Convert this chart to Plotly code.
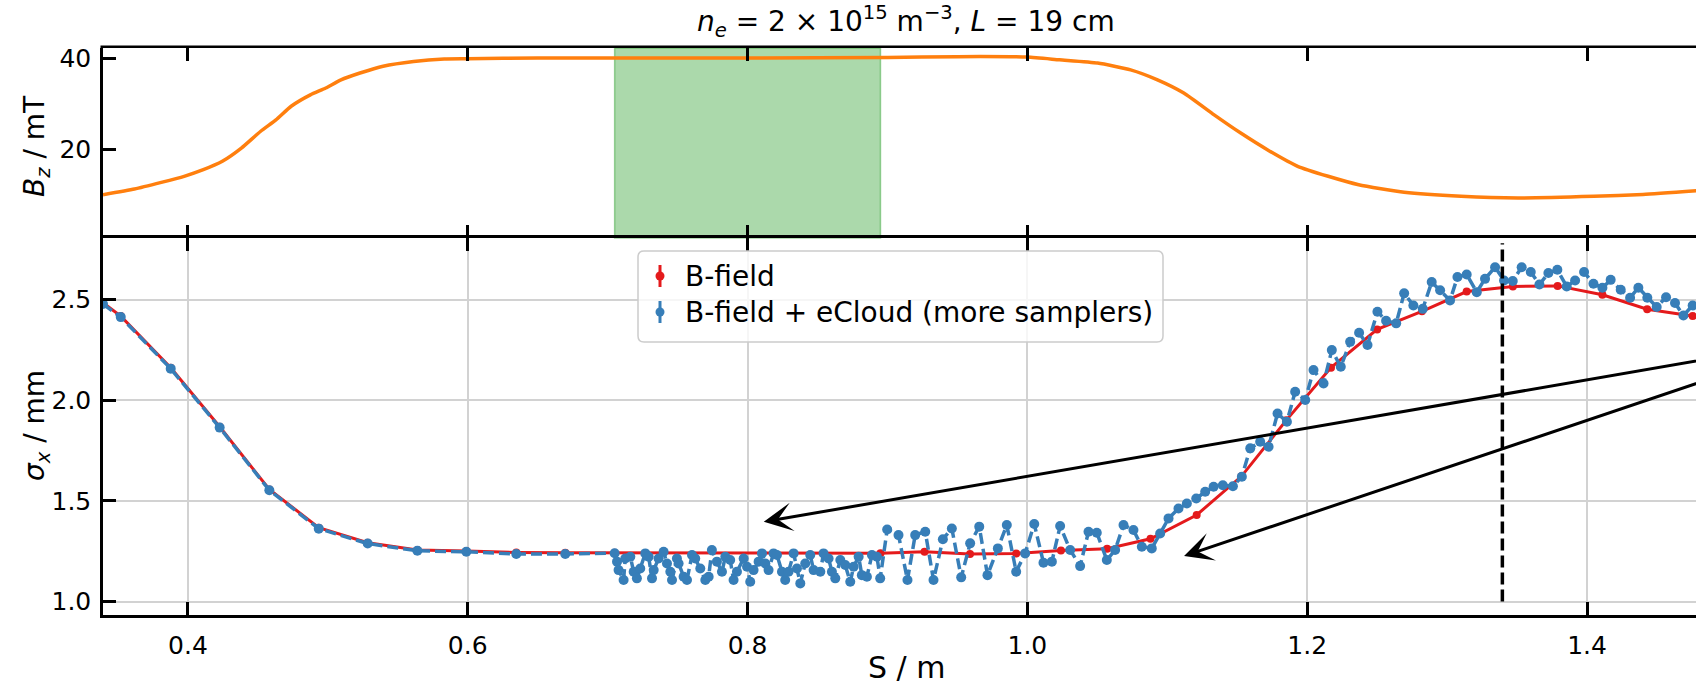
import plotly.graph_objects as go

# ---------------- data ----------------
# longitudinal field on axis
s_bz = [0.3393, 0.3618, 0.381, 0.3973, 0.411, 0.4246, 0.4382, 0.452, 0.4629, 0.4738,
        0.4875, 0.4985, 0.5094, 0.523, 0.5395, 0.5613, 0.5832, 0.5996, 0.65, 0.70,
        0.80, 0.90, 0.95, 1.0, 1.0229, 1.0502, 1.0738, 1.093, 1.1118, 1.1335,
        1.1525, 1.1715, 1.1932, 1.215, 1.2368, 1.2693, 1.31, 1.3507, 1.405, 1.44, 1.478]
bz = [9.95, 11.2, 12.66, 14.0, 15.45, 17.3, 20.2, 23.9, 26.4, 29.4,
      31.9, 33.4, 35.2, 36.7, 38.2, 39.25, 39.8, 39.85, 40.0, 40.0,
      40.0, 40.1, 40.3, 40.2, 39.6, 38.9, 37.4, 35.2, 32.3, 27.5,
      23.5, 19.85, 16.2, 14.0, 12.15, 10.5, 9.6, 9.23, 9.6, 10.0, 10.8]

# plasma cell extent (m)
cell_start, cell_end = 0.705, 0.895
# marked position (m)
s_mark = 1.3395

# beam size, B-field only
s_red = [0.3393, 0.352, 0.3877, 0.4227, 0.4582, 0.4935, 0.5285, 0.564, 0.599, 0.6347,
         0.6697, 0.705, 0.895, 0.9265, 0.959, 0.992, 1.024, 1.057, 1.088, 1.121,
         1.153, 1.185, 1.217, 1.250, 1.282, 1.314, 1.347, 1.379, 1.411, 1.443, 1.4755]
sigma_red = [2.484, 2.418, 2.161, 1.868, 1.557, 1.367, 1.292, 1.256, 1.251, 1.244,
             1.242, 1.242, 1.240, 1.247, 1.236, 1.238, 1.254, 1.262, 1.312, 1.430,
             1.622, 1.900, 2.162, 2.352, 2.442, 2.540, 2.565, 2.568, 2.524, 2.452, 2.418]

# beam size, B-field + electron cloud (denser sampling)
s_blue = [
    0.3393, 0.352, 0.3877, 0.4227, 0.4582, 0.4935, 0.5285, 0.564, 0.599, 0.6347, 0.6697, 0.705,
    0.7067, 0.7078, 0.7114, 0.7126, 0.7162, 0.7186, 0.7209, 0.7233, 0.7269, 0.7293,
    0.7317, 0.7329, 0.7364, 0.7400, 0.7424, 0.7448, 0.7460, 0.7495, 0.7507, 0.7543,
    0.7567, 0.7603, 0.7626, 0.7662, 0.7698, 0.7722, 0.7745, 0.7781, 0.7817, 0.7841,
    0.7876, 0.7900, 0.7924, 0.7972, 0.7996, 0.8019, 0.8043, 0.8079, 0.8103, 0.8127,
    0.8150, 0.8186, 0.8210, 0.8246, 0.8269, 0.8293, 0.8329, 0.8353, 0.8377, 0.8412,
    0.8448, 0.8472, 0.8520, 0.8543, 0.8579, 0.8603, 0.8627, 0.8663, 0.8698, 0.8734,
    0.8758, 0.8794, 0.8817, 0.8853, 0.8889, 0.8925, 0.8948,
    0.8998, 0.9079, 0.9143, 0.9198, 0.9270, 0.9329, 0.9396, 0.9460, 0.9527, 0.9591,
    0.9656, 0.9715, 0.9789, 0.9853, 0.9920, 0.9984, 1.0049, 1.0115, 1.0175, 1.0234,
    1.0306, 1.0377, 1.0437, 1.0496, 1.0568, 1.0627, 1.0687, 1.0758, 1.0818, 1.0889,
    1.0949, 1.1009, 1.1080, 1.1140, 1.1207, 1.1271, 1.1331, 1.1397, 1.1469, 1.1533,
    1.1593, 1.1664, 1.1724, 1.1788, 1.1855, 1.1914, 1.1986, 1.2045, 1.2117, 1.2176,
    1.2240, 1.2307, 1.2371, 1.2431, 1.2502, 1.2564, 1.2636,
    1.2693, 1.2759, 1.2826, 1.2890, 1.2950, 1.3021, 1.3074, 1.3140, 1.3212, 1.3271,
    1.3343, 1.3407, 1.3469, 1.3533, 1.3598, 1.3660, 1.3724, 1.3788, 1.3855, 1.3915,
    1.3979, 1.4046, 1.4110, 1.4169, 1.4241, 1.4308, 1.4367, 1.4431, 1.4498, 1.4565,
    1.4629, 1.4689, 1.4755]
sigma_blue = [
    2.478, 2.413, 2.157, 1.864, 1.553, 1.362, 1.288, 1.252, 1.247, 1.236, 1.236, 1.240,
    1.198, 1.156, 1.107, 1.214, 1.222, 1.148, 1.115, 1.164, 1.239, 1.222,
    1.115, 1.156, 1.214, 1.247, 1.189, 1.148, 1.107, 1.214, 1.189, 1.123,
    1.107, 1.231, 1.214, 1.164, 1.107, 1.123, 1.256, 1.198, 1.148, 1.222,
    1.206, 1.107, 1.148, 1.214, 1.173, 1.098, 1.156, 1.198, 1.239, 1.189,
    1.156, 1.239, 1.231, 1.148, 1.107, 1.148, 1.239, 1.164, 1.090, 1.189,
    1.231, 1.156, 1.148, 1.239, 1.214, 1.148, 1.115, 1.206, 1.181, 1.098,
    1.173, 1.222, 1.131, 1.123, 1.231, 1.222, 1.115,
    1.358, 1.330, 1.107, 1.330, 1.347, 1.107, 1.309, 1.363, 1.120, 1.289,
    1.372, 1.131, 1.264, 1.380, 1.148, 1.239, 1.385, 1.193, 1.198, 1.375,
    1.256, 1.176, 1.347, 1.342, 1.206, 1.256, 1.380, 1.355, 1.272, 1.264,
    1.338, 1.413, 1.462, 1.487, 1.512, 1.545, 1.570, 1.578, 1.573, 1.620,
    1.761, 1.794, 1.769, 1.934, 1.893, 2.042, 2.001, 2.150, 2.083, 2.249,
    2.166, 2.290, 2.335, 2.274, 2.440, 2.395, 2.382,
    2.531, 2.471, 2.454, 2.587, 2.546, 2.496, 2.612, 2.625, 2.537, 2.603,
    2.661, 2.595, 2.592, 2.661, 2.637, 2.575, 2.632, 2.648, 2.565, 2.595,
    2.637, 2.579, 2.559, 2.598, 2.549, 2.509, 2.559, 2.509, 2.463, 2.512,
    2.483, 2.421, 2.471]

x_ticks = [0.4, 0.6, 0.8, 1.0, 1.2, 1.4]
x_ticklabels = ["0.4", "0.6", "0.8", "1.0", "1.2", "1.4"]
bz_ticks = [20, 40]
sigma_ticks = [1.0, 1.5, 2.0, 2.5]
sigma_ticklabels = ["1.0", "1.5", "2.0", "2.5"]

legend_labels = ["B-field", "B-field + eCloud (more samplers)"]

# ---------------- style ----------------
FONT = "DejaVu Sans"
FS_TICK = 25
FS = 28
RED = "#e41a1c"
BLUE = "#377eb8"
ORANGE = "#ff7f0e"
GRID = "#d2d2d2"
LW = 2.5

W, H = 1696, 685
PL, PR, PT, PB = 103, 1696, 48, 615        # plot area in pixels
SPLIT = 238                                  # boundary between panels
split_frac = (PB - SPLIT) / (PB - PT)


def px_x(px):
    return (px - PL) / (PR - PL)


def px_y(py):
    return (PB - py) / (PB - PT)


fig = go.Figure()

fig.add_trace(go.Scatter(x=s_bz, y=bz, mode="lines", xaxis="x2", yaxis="y",
                         line=dict(color=ORANGE, width=3.5, shape="spline", smoothing=0.5),
                         showlegend=False))

fig.add_trace(go.Scatter(x=s_red, y=sigma_red, mode="lines+markers", xaxis="x", yaxis="y2",
                         line=dict(color=RED, width=3), marker=dict(color=RED, size=8),
                         name=legend_labels[0], showlegend=False))

fig.add_trace(go.Scatter(x=s_blue, y=sigma_blue, mode="lines+markers", xaxis="x", yaxis="y2",
                         line=dict(color=BLUE, width=3.5, dash="11px,5px"),
                         marker=dict(color=BLUE, size=10),
                         name=legend_labels[1], showlegend=False))

tick_common = dict(ticks="inside", ticklen=13, tickwidth=LW, tickcolor="black",
                   linewidth=LW, linecolor="black",
                   tickfont=dict(family=FONT, size=FS_TICK, color="black"), zeroline=False)

x_range = [0.3393, 1.4779]

fig.update_layout(
    width=W, height=H,
    margin=dict(l=PL, r=W - PR, t=PT, b=H - PB, pad=0),
    paper_bgcolor="white", plot_bgcolor="white",
    showlegend=False,
    xaxis=dict(domain=[0, 1], anchor="y2", range=x_range, tickvals=x_ticks,
               ticktext=x_ticklabels, showline=True, mirror="ticks", showgrid=True,
               gridcolor=GRID, gridwidth=2, ticklabelstandoff=6, **tick_common),
    # upper panel: ticks on both edges, frame lines come from the lower panel and a shape
    xaxis2=dict(domain=[0, 1], anchor="y", matches="x", range=x_range, tickvals=x_ticks,
                showticklabels=False, showline=False, mirror="ticks", showgrid=False,
                **tick_common),
    yaxis=dict(domain=[split_frac, 1], anchor="x2", range=[0.44, 42.2], tickvals=bz_ticks,
               showline=True, mirror=False, showgrid=False, ticklabelstandoff=4,
               **tick_common),
    yaxis2=dict(domain=[0, split_frac], anchor="x", range=[0.933, 2.806],
                tickvals=sigma_ticks, ticktext=sigma_ticklabels, showline=True,
                mirror=False, showgrid=True, gridcolor=GRID, gridwidth=2,
                ticklabelstandoff=4, **tick_common),
)

# top frame line of the upper panel
fig.add_shape(type="line", xref="paper", yref="paper", x0=px_x(PL - LW), x1=1,
              y0=px_y(PT - LW / 2), y1=px_y(PT - LW / 2),
              line=dict(color="black", width=LW), layer="above")

# plasma cell band
fig.add_shape(type="rect", xref="x2", yref="y domain", x0=cell_start, x1=cell_end,
              y0=0, y1=1, fillcolor="rgba(44,160,44,0.4)",
              line=dict(color="rgba(44,160,44,0.45)", width=1.5), layer="below")

# marked position
fig.add_shape(type="line", xref="x", yref="y2", x0=s_mark, x1=s_mark, y0=1.0, y1=2.78,
              line=dict(color="black", width=3.5, dash="12px,5px"), layer="above")

# arrows coming in from the right
arrows = [((0.8116, 1.396), (1.50, 2.221)),
          ((1.112, 1.226), (1.50, 2.134))]
for (hx, hy), (tx, ty) in arrows:
    fig.add_annotation(x=hx, y=hy, ax=tx, ay=ty, xref="x", yref="y2", axref="x", ayref="y2",
                       text="", showarrow=True, arrowhead=3, arrowsize=1.6,
                       arrowwidth=3, arrowcolor="black", standoff=0)

# legend box
lx0, lx1, ly0, ly1 = 638, 1163, 251, 342
r = 6
rx, ry = r / (PR - PL), r / (PB - PT)
X0, X1, Y0, Y1 = px_x(lx0), px_x(lx1), px_y(ly1), px_y(ly0)
path = (f"M{X0+rx},{Y0} L{X1-rx},{Y0} Q{X1},{Y0} {X1},{Y0+ry} L{X1},{Y1-ry} "
        f"Q{X1},{Y1} {X1-rx},{Y1} L{X0+rx},{Y1} Q{X0},{Y1} {X0},{Y1-ry} "
        f"L{X0},{Y0+ry} Q{X0},{Y0} {X0+rx},{Y0} Z")
fig.add_shape(type="path", xref="paper", yref="paper", path=path,
              fillcolor="rgba(255,255,255,0.8)", line=dict(color="#cccccc", width=1.5),
              layer="above")

rows = [(276, RED, legend_labels[0]), (312, BLUE, legend_labels[1])]
hx_px = 660
for py, col, lab in rows:
    fig.add_shape(type="line", xref="paper", yref="paper", x0=px_x(hx_px), x1=px_x(hx_px),
                  y0=px_y(py - 11), y1=px_y(py + 11), line=dict(color=col, width=3),
                  layer="above")
    cr = 4.5
    fig.add_shape(type="circle", xref="paper", yref="paper",
                  x0=px_x(hx_px - cr), x1=px_x(hx_px + cr),
                  y0=px_y(py + cr), y1=px_y(py - cr),
                  fillcolor=col, line=dict(color=col, width=0), layer="above")
    fig.add_annotation(x=px_x(683), y=px_y(py), xref="paper", yref="paper", text=lab,
                       showarrow=False, xanchor="left", yanchor="middle",
                       font=dict(family=FONT, size=FS, color="black"))

# title and axis labels
fig.add_annotation(x=px_x(906), y=px_y(22), xref="paper", yref="paper",
                   text="<i>n</i><sub><i>e</i></sub> = 2 × 10<sup>15</sup> m<sup>−3</sup>, "
                        "<i>L</i> = 19 cm",
                   showarrow=False, xanchor="center", yanchor="middle",
                   font=dict(family=FONT, size=FS, color="black"))
fig.add_annotation(x=px_x(906), y=px_y(667), xref="paper", yref="paper", text="S / m",
                   showarrow=False, xanchor="center", yanchor="middle",
                   font=dict(family=FONT, size=30, color="black"))
fig.add_annotation(x=px_x(36), y=px_y(146), xref="paper", yref="paper",
                   text="<i>B</i><sub><i>z</i></sub> / mT", textangle=-90,
                   showarrow=False, xanchor="center", yanchor="middle",
                   font=dict(family=FONT, size=FS, color="black"))
fig.add_annotation(x=px_x(36), y=px_y(426), xref="paper", yref="paper",
                   text="<i>σ</i><sub><i>x</i></sub> / mm", textangle=-90,
                   showarrow=False, xanchor="center", yanchor="middle",
                   font=dict(family=FONT, size=FS, color="black"))

fig.write_html("out.html")
